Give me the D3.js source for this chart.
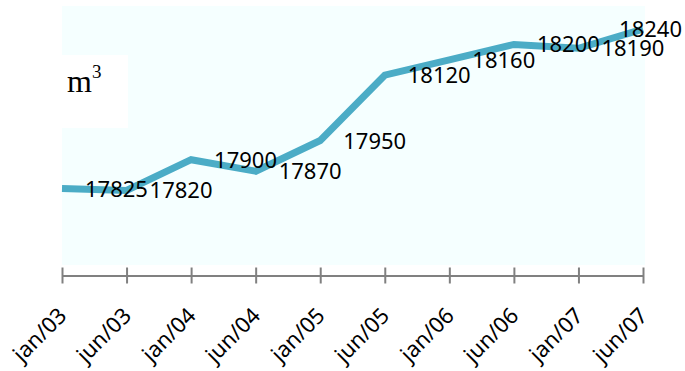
<!DOCTYPE html>
<html><head><meta charset="utf-8">
<script src="https://cdn.jsdelivr.net/npm/d3@7"></script>
<style>html,body{margin:0;padding:0;background:#fff;}svg{display:block;}</style>
</head><body>
<svg id="chart" width="685" height="371"></svg>
<script>
const categories = ["jan/03","jun/03","jan/04","jun/04","jan/05","jun/05","jan/06","jun/06","jan/07","jun/07"];
const values = [17825,17820,17900,17870,17950,18120,18160,18200,18190,18240];
const yDomain = [17600, 18300];
const unitLabel = "m";
const unitSup = "3";

const W = 685, H = 371;
const svg = d3.select("#chart");
const x = d3.scalePoint().domain(categories).range([62, 643]);
const y = d3.scaleLinear().domain(yDomain).range([275, 6]);

// plot background
svg.append("rect").attr("x", 62).attr("y", 6).attr("width", 583).attr("height", 259).attr("fill", "#f5ffff");
// unit label box
svg.append("rect").attr("x", 62).attr("y", 55).attr("width", 66).attr("height", 73).attr("fill", "#ffffff");
const ut = svg.append("text").attr("x", 67).attr("y", 92)
  .attr("font-family", "'Liberation Serif', 'Times New Roman', serif").attr("font-size", 32).attr("fill", "#000");
ut.append("tspan").text(unitLabel);
ut.append("tspan").attr("font-size", 19).attr("dy", -14).text(unitSup);

// axis
const axis = d3.axisBottom(x).tickSize(8).tickSizeOuter(0).tickFormat("");
const gA = svg.append("g").attr("transform", "translate(0,275.5)").call(axis);
gA.select(".domain").attr("stroke", "#808080").attr("stroke-width", 2);
gA.selectAll(".tick line").attr("y1", -8).attr("y2", 8).attr("stroke", "#808080").attr("stroke-width", 2);

// tick labels
svg.append("g").selectAll("text").data(categories).join("text")
  .attr("transform", d => `translate(${x(d) + 6},317) rotate(-45)`)
  .attr("text-anchor", "end")
  .attr("font-family", "'Noto Sans', 'Open Sans', sans-serif").attr("font-size", 22).attr("fill", "#000")
  .text(d => d);

// line
const data = categories.map((c, i) => ({c, v: values[i]}));
svg.append("path").datum(data)
  .attr("fill", "none").attr("stroke", "#4bacc6").attr("stroke-width", 7).attr("stroke-linejoin", "miter")
  .attr("d", d3.line().x(d => x(d.c)).y(d => y(d.v)));

// data labels
const lbl = svg.append("g").selectAll("text").data(data).join("text")
  .attr("font-family", "'Noto Sans', 'Open Sans', sans-serif").attr("font-size", 22).attr("fill", "#000")
  .attr("y", d => y(d.v) + 8)
  .text(d => d.v);
lbl.each(function(d) {
  const w = this.getComputedTextLength();
  let xx = x(d.c) + 23;
  if (xx + w > W - 3) xx = W - 3 - w;
  d3.select(this).attr("x", xx);
});
</script>
</body></html>
